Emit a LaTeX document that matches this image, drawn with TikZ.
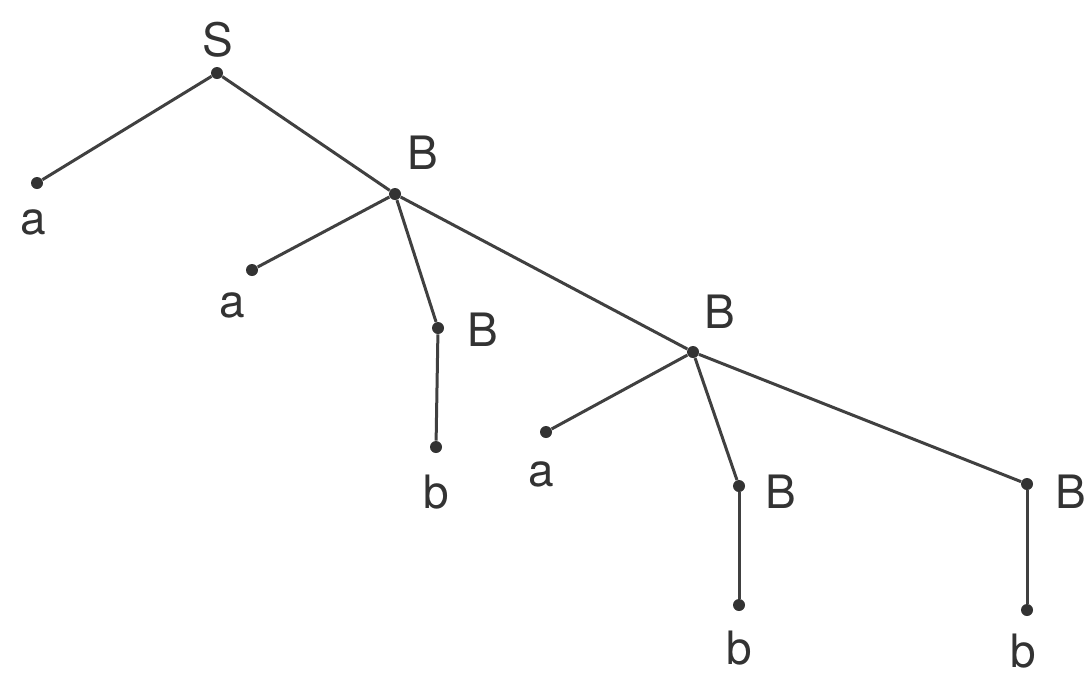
\documentclass[tikz,border=0pt]{standalone}
\usepackage{fontspec}
\setmainfont{TeX Gyre Heros}
\begin{document}
\begin{tikzpicture}[x=0.5pt,y=-0.5pt,
  dot/.style={circle,fill=black!80,inner sep=0pt,minimum size=6pt},
  lbl/.style={inner sep=0pt,text=black!80,font=\fontsize{23}{27}\selectfont},
  edge/.style={draw=black!75,line width=1.5pt}]
\useasboundingbox (0,0) rectangle (1086,676);
% nodes
\node[dot] (S)  at (217,73) {};
\node[dot] (a1) at (37,183) {};
\node[dot] (B1) at (395,194) {};
\node[dot] (a2) at (252,270) {};
\node[dot] (B2) at (438,328) {};
\node[dot] (b2) at (436,447) {};
\node[dot] (B3) at (693,352) {};
\node[dot] (a3) at (546,432) {};
\node[dot] (B4) at (739,486) {};
\node[dot] (b4) at (739,605) {};
\node[dot] (B5) at (1027,484) {};
\node[dot] (b5) at (1027,610) {};
% labels
\node[lbl] (lS)  at (218,40) {S};
\node[lbl] (la1) at (33,222) {a};
\node[lbl] (lB1) at (423,153) {B};
\node[lbl] (la2) at (232,305) {a};
\node[lbl] (lB2) at (483,330) {B};
\node[lbl] (lb2) at (436,492) {b};
\node[lbl] (lB3) at (720,312) {B};
\node[lbl] (la3) at (541,474) {a};
\node[lbl] (lB4) at (781,492) {B};
\node[lbl] (lb4) at (739,648) {b};
\node[lbl] (lB5) at (1071,492) {B};
\node[lbl] (lb5) at (1023,651) {b};
% edges
\draw[edge] (S) -- (a1);
\draw[edge] (S) -- (B1);
\draw[edge] (B1) -- (a2);
\draw[edge] (B1) -- (B2);
\draw[edge] (B2) -- (b2);
\draw[edge] (B1) -- (B3);
\draw[edge] (B3) -- (a3);
\draw[edge] (B3) -- (B4);
\draw[edge] (B4) -- (b4);
\draw[edge] (B3) -- (B5);
\draw[edge] (B5) -- (b5);
\end{tikzpicture}
\end{document}
